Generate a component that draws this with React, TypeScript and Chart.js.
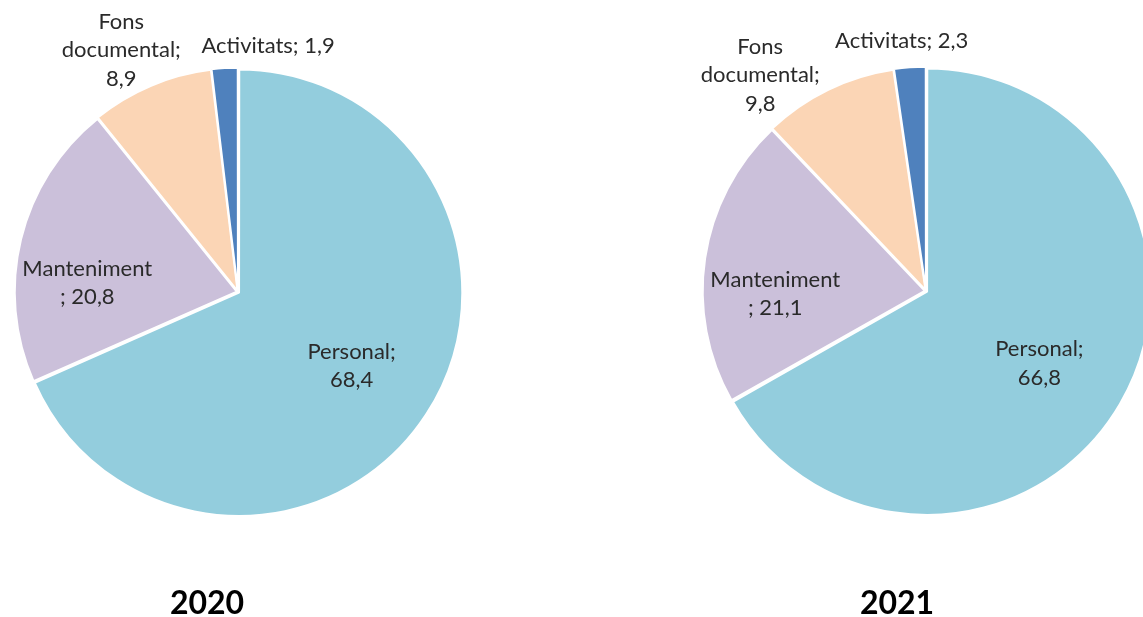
import React, { useEffect, useRef } from "react";
import { Chart, registerables } from "chart.js";

Chart.register(...registerables);

// ---- data ----
const categories = ["Personal", "Manteniment", "Fons documental", "Activitats"];
const values2020 = [68.4, 20.8, 8.9, 1.9];
const values2021 = [66.8, 21.1, 9.8, 2.3];
const years = ["2020", "2021"];

// ---- style ----
const sliceColors = ["#93CDDD", "#CBC0DA", "#FBD5B5", "#4F81BD"];
const FONT = "Lato, 'Open Sans', sans-serif";
const W = 1143;
const H = 617;

function fmt(v: number): string {
  return v.toFixed(1).replace(".", ",");
}

function labelLines(cat: string, v: number): string[] {
  const s = fmt(v);
  if (cat === "Personal") return [cat + ";", s];
  if (cat === "Manteniment") return [cat, "; " + s];
  if (cat === "Fons documental") return ["Fons", "documental;", s];
  return [cat + "; " + s];
}

type Placement = { r: number; d: number };

const placement2020: Placement[] = [
  { r: 0.611, d: 0 },
  { r: 0.68, d: -10.3 },
  { r: 1.21, d: -2.9 },
  { r: 1.117, d: 10.4 },
];
const placement2021: Placement[] = [
  { r: 0.606, d: 2.3 },
  { r: 0.679, d: -9.5 },
  { r: 1.226, d: -11.6 },
  { r: 1.132, d: -1.4 },
];

const sliceLabelPlugin = {
  id: "sliceLabels",
  afterDatasetsDraw(chart: any, _args: any, opts: any) {
    const ctx = chart.ctx as CanvasRenderingContext2D;
    const meta = chart.getDatasetMeta(0);
    const ds = chart.data.datasets[0];
    ctx.save();
    ctx.font = `${opts.size}px ${FONT}`;
    ctx.fillStyle = opts.color;
    ctx.textAlign = "center";
    ctx.textBaseline = "middle";
    meta.data.forEach((arc: any, i: number) => {
      const p = arc.getProps(["x", "y", "startAngle", "endAngle", "outerRadius"], true);
      const pl: Placement = opts.placement[i];
      const a = (p.startAngle + p.endAngle) / 2 + (pl.d * Math.PI) / 180;
      const r = p.outerRadius * pl.r;
      const cx = p.x + Math.cos(a) * r;
      const cy = p.y + Math.sin(a) * r;
      const lines = labelLines(chart.data.labels[i], ds.data[i]);
      lines.forEach((ln, k) => {
        ctx.fillText(ln, cx, cy + (k - (lines.length - 1) / 2) * opts.lineHeight);
      });
    });
    const c = meta.data[0];
    ctx.font = `bold ${opts.captionSize}px ${FONT}`;
    ctx.fillStyle = "#000";
    ctx.textBaseline = "alphabetic";
    ctx.fillText(opts.caption, c.x + opts.captionDx, opts.captionY);
    ctx.restore();
  },
};

function PieCanvas(props: {
  values: number[];
  year: string;
  padding: { left: number; right: number; top: number; bottom: number };
  placement: Placement[];
  captionDx: number;
}) {
  const ref = useRef<HTMLCanvasElement | null>(null);
  useEffect(() => {
    if (!ref.current) return;
    const chart = new Chart(ref.current, {
      type: "pie",
      data: {
        labels: categories,
        datasets: [
          {
            data: props.values,
            backgroundColor: sliceColors,
            borderColor: "#ffffff",
            borderWidth: 2,
            offset: 5,
            radius: 222,
            clip: false,
          } as any,
        ],
      },
      options: {
        animation: false,
        responsive: false,
        events: [],
        layout: { padding: props.padding },
        plugins: {
          legend: { display: false },
          tooltip: { enabled: false },
          title: { display: false },
          sliceLabels: {
            size: 22,
            lineHeight: 28.5,
            color: "#2a2a2a",
            placement: props.placement,
            caption: props.year,
            captionDx: props.captionDx,
            captionY: 614,
            captionSize: 32,
          },
        } as any,
      },
      plugins: [sliceLabelPlugin],
    });
    return () => chart.destroy();
  }, []);
  return (
    <canvas
      ref={ref}
      width={W}
      height={H}
      style={{ position: "absolute", left: 0, top: 0, width: W, height: H }}
    />
  );
}

export default function App() {
  return (
    <div
      style={{
        position: "absolute",
        left: 0,
        top: 0,
        width: W,
        height: H,
        background: "#ffffff",
        overflow: "hidden",
      }}
    >
      <PieCanvas
        values={values2020}
        year={years[0]}
        padding={{ left: 0, right: 667, top: 0, bottom: 33 }}
        placement={placement2020}
        captionDx={-31}
      />
      <PieCanvas
        values={values2021}
        year={years[1]}
        padding={{ left: 709, right: 0, top: 0, bottom: 35 }}
        placement={placement2021}
        captionDx={-29}
      />
    </div>
  );
}
